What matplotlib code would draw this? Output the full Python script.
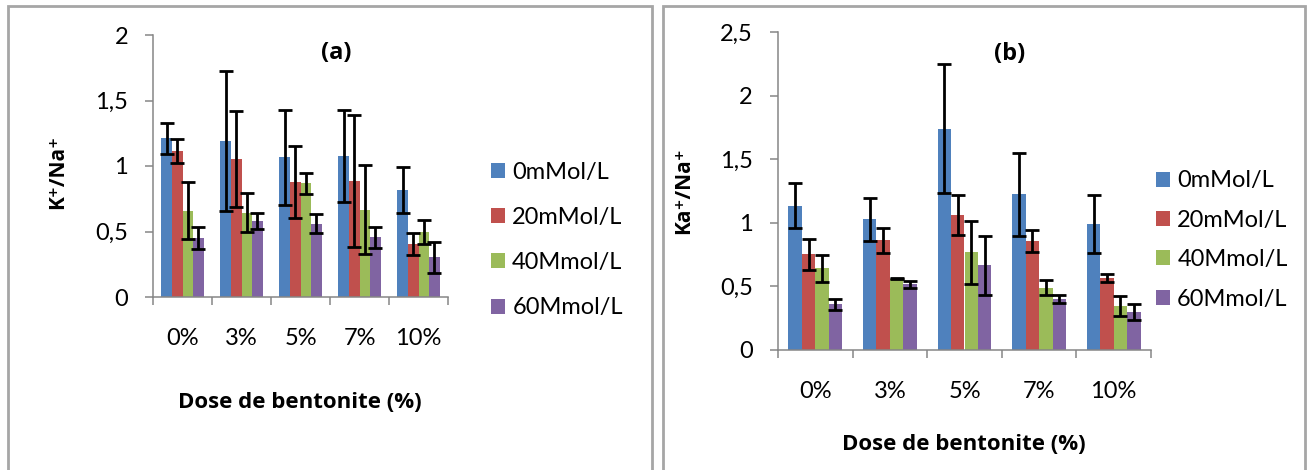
import matplotlib
matplotlib.use("Agg")
import matplotlib.pyplot as plt
import numpy as np
from matplotlib.patches import Rectangle
from matplotlib.ticker import FixedLocator

plt.rcParams['font.family'] = ['Lato', 'DejaVu Sans']
BOLD = ['Open Sans', 'DejaVu Sans']

doses = ['0%', '3%', '5%', '7%', '10%']
series = ['0mMol/L', '20mMol/L', '40Mmol/L', '60Mmol/L']
colors = ['#4F81BD', '#C0504D', '#9BBB59', '#8064A2']

# panel (a) : K+/Na+
k_0 = [1.21, 1.19, 1.065, 1.078, 0.818]
k_20 = [1.115, 1.055, 0.875, 0.887, 0.404]
k_40 = [0.66, 0.645, 0.867, 0.666, 0.498]
k_60 = [0.45, 0.58, 0.56, 0.455, 0.302]
k_err_0 = [0.115, 0.535, 0.365, 0.35, 0.175]
k_err_20 = [0.09, 0.365, 0.275, 0.505, 0.085]
k_err_40 = [0.22, 0.15, 0.08, 0.34, 0.09]
k_err_60 = [0.085, 0.06, 0.07, 0.08, 0.115]

# panel (b) : Ka+/Na+
ka_0 = [1.136, 1.026, 1.741, 1.225, 0.992]
ka_20 = [0.751, 0.861, 1.06, 0.859, 0.565]
ka_40 = [0.641, 0.56, 0.767, 0.49, 0.348]
ka_60 = [0.361, 0.516, 0.665, 0.403, 0.298]
ka_err_0 = [0.18, 0.17, 0.507, 0.325, 0.23]
ka_err_20 = [0.12, 0.1, 0.155, 0.085, 0.033]
ka_err_40 = [0.105, 0.005, 0.25, 0.06, 0.08]
ka_err_60 = [0.043, 0.027, 0.23, 0.03, 0.065]

W, H = 1312, 470
fig = plt.figure(figsize=(W / 100, H / 100), dpi=100)

# cadres gris autour des deux graphiques
for x0, x1 in [(8, 652), (663, 1305)]:
    fig.patches.append(Rectangle((x0 / W, -0.02), (x1 - x0) / W, 1 - 6 / H + 0.02,
                                 transform=fig.transFigure, fill=False,
                                 edgecolor='#A6A6A6', linewidth=2))


def draw_panel(ax, values, errors, ymax, title):
    x = np.arange(len(doses))
    width = 0.18
    for i, (vals, errs) in enumerate(zip(values, errors)):
        ax.bar(x + (i - 1.5) * width, vals, width, color=colors[i], label=series[i],
               yerr=errs, error_kw=dict(ecolor='black', elinewidth=2, capsize=5, capthick=2))
    ax.set_xlim(-0.5, len(doses) - 0.5)
    ax.set_ylim(0, ymax)
    ax.set_yticks(np.arange(0, ymax + 0.01, 0.5))
    ax.set_yticklabels(['0' if v == 0 else ('%g' % v).replace('.', ',')
                        for v in np.arange(0, ymax + 0.01, 0.5)])
    ax.set_xticks(x)
    ax.set_xticklabels(doses)
    ax.xaxis.set_minor_locator(FixedLocator(np.arange(-0.5, len(doses), 1)))
    for s in ['top', 'right']:
        ax.spines[s].set_visible(False)
    for s in ['left', 'bottom']:
        ax.spines[s].set_color('#868686')
        ax.spines[s].set_linewidth(1.1)
    ax.tick_params(axis='y', direction='out', length=6, width=1.1, color='#868686',
                   labelsize=17, pad=12)
    ax.tick_params(axis='x', which='major', length=0, labelsize=17, pad=22)
    ax.tick_params(axis='x', which='minor', direction='out', length=6, width=1.1,
                   color='#868686')
    ax.text(0.62, 0.93, title, transform=ax.transAxes, ha='center', va='center',
            fontsize=17, fontweight='bold', family=BOLD)


# (a)
ax1 = fig.add_axes([153 / W, 1 - 297 / H, 295 / W, 262 / H])
draw_panel(ax1, [k_0, k_20, k_40, k_60], [k_err_0, k_err_20, k_err_40, k_err_60], 2, '(a)')
ax1.legend(loc='center left', bbox_to_anchor=(491 / W, 1 - 240 / H),
           bbox_transform=fig.transFigure, frameon=False, fontsize=17,
           handlelength=0.6, handleheight=0.6, handletextpad=0.3,
           labelspacing=1.03, borderpad=0, borderaxespad=0)
fig.text(58 / W, 1 - 172 / H, 'K⁺/Na⁺', rotation=90, ha='center', va='center',
         fontsize=15, fontweight='bold', family=BOLD)
fig.text(300 / W, 1 - 402 / H, 'Dose de bentonite (%)', ha='center', va='center',
         fontsize=16, fontweight='bold', family=BOLD)

# (b)
ax2 = fig.add_axes([778 / W, 1 - 350 / H, 373 / W, 318 / H])
draw_panel(ax2, [ka_0, ka_20, ka_40, ka_60], [ka_err_0, ka_err_20, ka_err_40, ka_err_60],
           2.5, '(b)')
ax2.legend(loc='center left', bbox_to_anchor=(1156 / W, 1 - 240 / H),
           bbox_transform=fig.transFigure, frameon=False, fontsize=17,
           handlelength=0.6, handleheight=0.6, handletextpad=0.3,
           labelspacing=0.78, borderpad=0, borderaxespad=0)
fig.text(684 / W, 1 - 191 / H, 'Ka⁺/Na⁺', rotation=90, ha='center', va='center',
         fontsize=15, fontweight='bold', family=BOLD)
fig.text(964 / W, 1 - 445 / H, 'Dose de bentonite (%)', ha='center', va='center',
         fontsize=16, fontweight='bold', family=BOLD)

fig.savefig('out.png', dpi=100)
